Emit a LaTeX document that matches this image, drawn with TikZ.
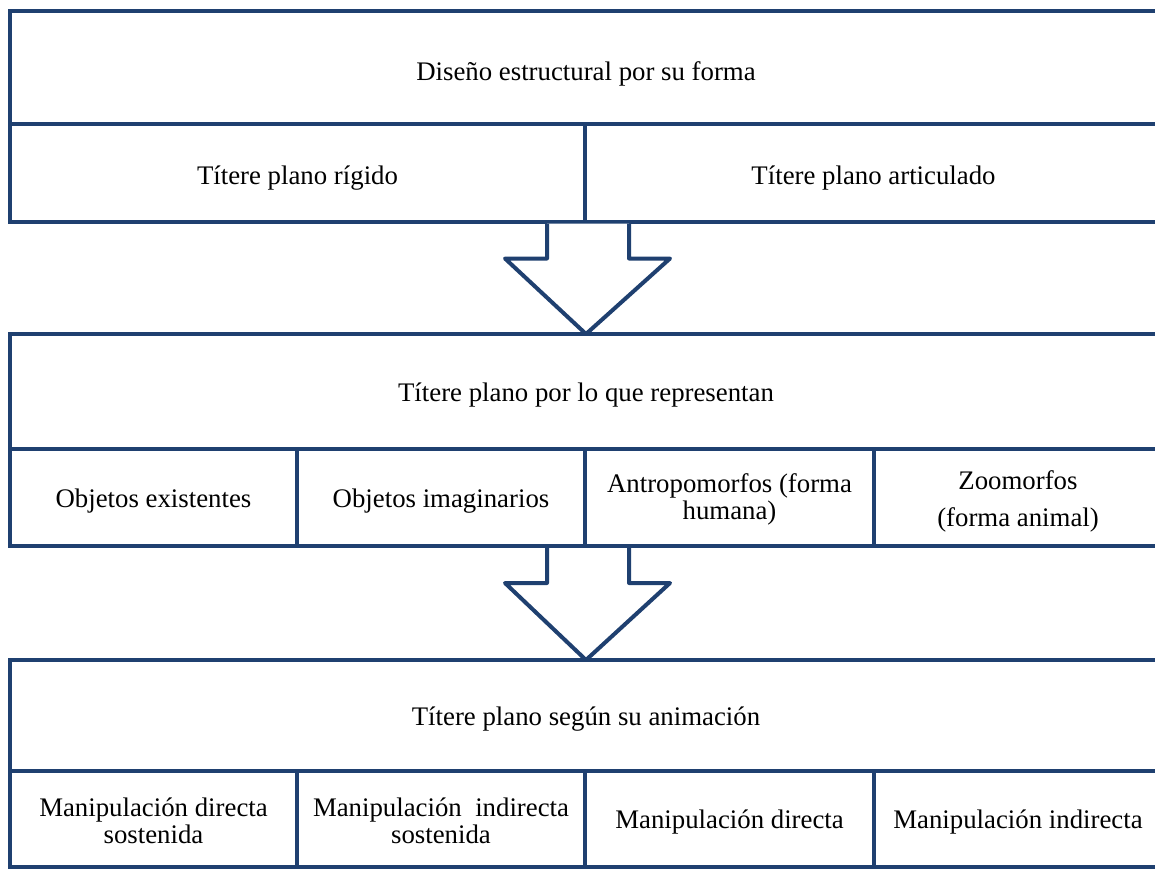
\documentclass[tikz,border=0pt]{standalone}
\usepackage{fontspec}
\setmainfont{Liberation Serif}
\usetikzlibrary{calc}
\definecolor{dblue}{RGB}{31,64,112}
\tikzset{
  cell/.style={draw=dblue, line width=2pt, inner sep=0pt},
  txt/.style={align=center, inner sep=0pt, font=\fontsize{13.4pt}{13.4pt}\selectfont},
  blockarrow/.style={draw=dblue, line width=2pt, line join=round, fill=white},
}
\begin{document}
\begin{tikzpicture}[x=0.5pt,y=-0.5pt]
\clip (0,0) rectangle (1155,868);
\fill[white] (0,0) rectangle (1155,868);
% Block 1
\node[cell, minimum width=576pt, minimum height=56.5pt] (t1) at (586,67.5) {};
\node[cell, minimum width=287.5pt, minimum height=49pt] (r1a) at (297.5,172.5) {};
\node[cell, minimum width=288.5pt, minimum height=49pt] (r1b) at (873.5,172.5) {};
\node[txt] (t1t) at ($(t1.center)+(0,6)$) {Diseño estructural por su forma};
\node[txt] (r1at) at ($(r1a.center)+(0,6)$) {Títere plano rígido};
\node[txt] (r1bt) at ($(r1b.center)+(0,6)$) {Títere plano articulado};
% Block 2
\node[cell, minimum width=576pt, minimum height=57.5pt] (t2) at (586,391.5) {};
\node[cell, minimum width=143.5pt, minimum height=48.5pt] (r2a) at (153.5,497.5) {};
\node[cell, minimum width=144pt, minimum height=48.5pt] (r2b) at (441,497.5) {};
\node[cell, minimum width=144.5pt, minimum height=48.5pt] (r2c) at (729.5,497.5) {};
\node[cell, minimum width=144pt, minimum height=48.5pt] (r2d) at (1018,497.5) {};
\node[txt] (t2t) at ($(t2.center)+(0,4)$) {Títere plano por lo que representan};
\node[txt] (r2at) at ($(r2a.center)+(0,4)$) {Objetos existentes};
\node[txt] (r2bt) at ($(r2b.center)+(0,4)$) {Objetos imaginarios};
\node[txt] (r2ct) at ($(r2c.center)+(0,2)$) {Antropomorfos (forma\\humana)};
\node[txt] (r2dt) at ($(r2d.center)+(0,4)$) {Zoomorfos\\[5pt](forma animal)};
% Block 3
\node[cell, minimum width=576pt, minimum height=55.5pt] (t3) at (586,715.5) {};
\node[cell, minimum width=143.5pt, minimum height=48pt] (r3a) at (153.5,819) {};
\node[cell, minimum width=144pt, minimum height=48pt] (r3b) at (441,819) {};
\node[cell, minimum width=144.5pt, minimum height=48pt] (r3c) at (729.5,819) {};
\node[cell, minimum width=144pt, minimum height=48pt] (r3d) at (1018,819) {};
\node[txt] (t3t) at ($(t3.center)+(0,4)$) {Títere plano según su animación};
\node[txt] (r3at) at ($(r3a.center)+(0,2)$) {Manipulación directa\\sostenida};
\node[txt] (r3bt) at ($(r3b.center)+(0,2)$) {Manipulación\ \ indirecta\\sostenida};
\node[txt] (r3ct) at ($(r3c.center)+(0,3)$) {Manipulación directa};
\node[txt] (r3dt) at ($(r3d.center)+(0,3)$) {Manipulación indirecta};
% Arrows
\coordinate (a1) at (r1a.south east);
\draw[blockarrow] ($(a1)+(-40,0)$) -- ($(a1)+(-40,35)$) -- ($(a1)+(-82,35)$)
  -- ($(t2.north)+(0,2)$) -- ($(a1)+(83,35)$) -- ($(a1)+(42,35)$) -- ($(a1)+(42,0)$);
\coordinate (a2) at (r2b.south east);
\draw[blockarrow] ($(a2)+(-40,0)$) -- ($(a2)+(-40,35)$) -- ($(a2)+(-82,35)$)
  -- ($(t3.north)+(0,2)$) -- ($(a2)+(83,35)$) -- ($(a2)+(42,35)$) -- ($(a2)+(42,0)$);
\end{tikzpicture}
\end{document}
